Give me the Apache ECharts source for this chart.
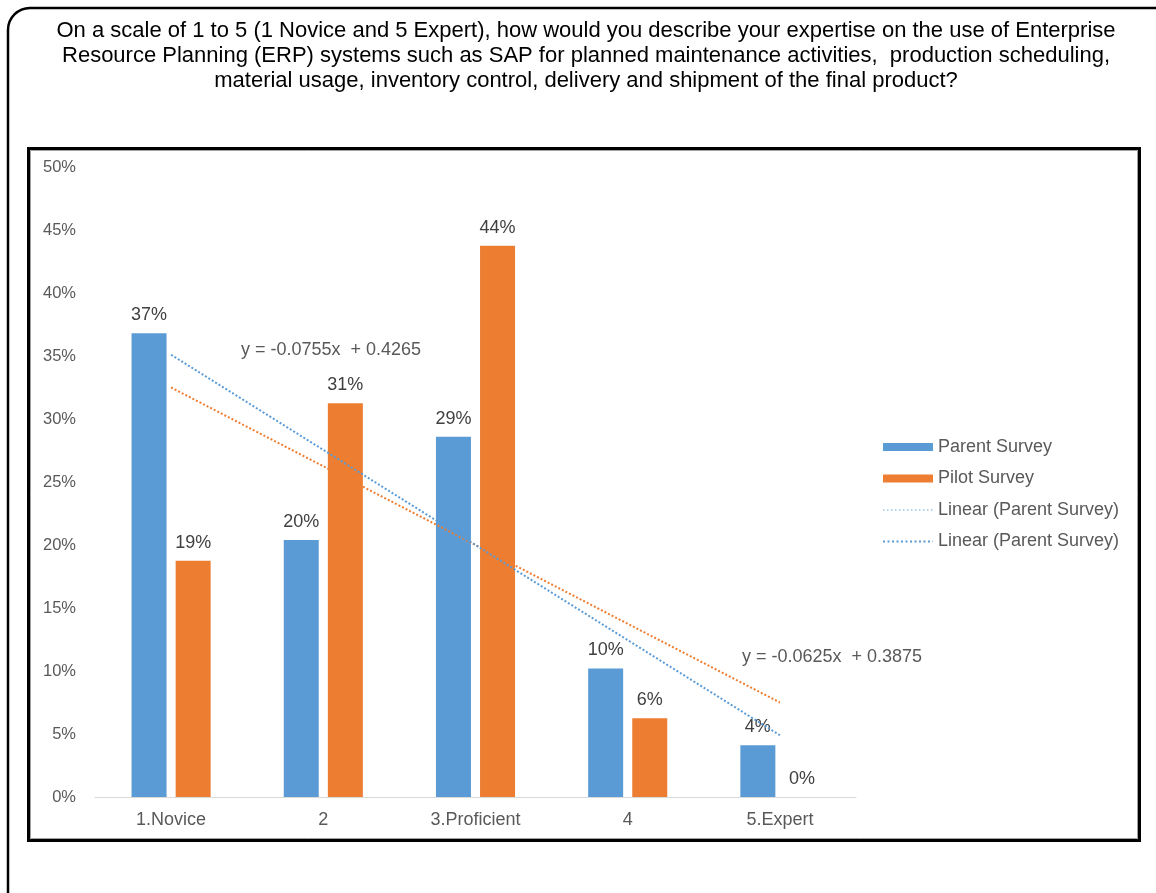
<!DOCTYPE html>
<html><head><meta charset="utf-8">
<script src="https://cdn.jsdelivr.net/npm/echarts@6/dist/echarts.min.js"></script>
<style>html,body{margin:0;padding:0;background:#fff;}#c{width:1156px;height:893px;}</style>
</head><body><div id="c"></div>
<script>
const titleLines = [
  "On a scale of 1 to 5 (1 Novice and 5 Expert), how would you describe your expertise on the use of Enterprise",
  "Resource Planning (ERP) systems such as SAP for planned maintenance activities,  production scheduling,",
  "material usage, inventory control, delivery and shipment of the final product?"
];
const categories = ["1.Novice", "2", "3.Proficient", "4", "5.Expert"];
const parentSurvey = [36.8, 20.4, 28.6, 10.2, 4.1];
const pilotSurvey = [18.75, 31.25, 43.75, 6.25, 0];
const parentTrend = [35.1, 27.55, 20.0, 12.45, 4.9];
const pilotTrend = [32.5, 26.25, 20.0, 13.75, 7.5];
const yTicks = [0, 5, 10, 15, 20, 25, 30, 35, 40, 45, 50];
const parentEq = "y = -0.0755x  + 0.4265";
const pilotEq = "y = -0.0625x  + 0.3875";

const BLUE = '#5B9BD5', ORANGE = '#ED7D31', LIGHTBLUE = '#9DC3E6';
const FONT = '"Liberation Sans", Arial, sans-serif';
const chart = echarts.init(document.getElementById('c'), null, {renderer: 'canvas'});
const pctLabel = {show: true, position: 'top', distance: 9, fontFamily: FONT, fontSize: 18, color: '#404040',
  formatter: function (p) { return Math.round(p.value) + '%'; }};
chart.setOption({
  backgroundColor: '#fff',
  animation: false,
  graphic: [
    {type: 'rect', shape: {x: 8, y: 8, width: 1180, height: 920, r: [22, 0, 0, 0]},
     style: {fill: 'none', stroke: '#000', lineWidth: 2.5}, z: -10},
    {type: 'rect', shape: {x: 28.5, y: 148.5, width: 1111, height: 692},
     style: {fill: 'none', stroke: '#000', lineWidth: 3}, z: -10},
    {type: 'rect', shape: {x: 30.5, y: 150.5, width: 1107, height: 688},
     style: {fill: 'none', stroke: '#a0a0a0', lineWidth: 1}, z: -10},
    {type: 'text', x: 586, y: 18, style: {text: titleLines.join('\n'), align: 'center',
      font: '22px ' + FONT, fill: '#000', lineHeight: 25}},
    {type: 'text', x: 241, y: 341, style: {text: parentEq, font: '18px ' + FONT, fill: '#595959'}},
    {type: 'text', x: 742, y: 648, style: {text: pilotEq, font: '18px ' + FONT, fill: '#595959'}}
  ],
  grid: {left: 95, right: 300, top: 167, bottom: 96},
  legend: {
    orient: 'vertical', left: 882, top: 438, padding: 0, itemGap: 13.5, itemWidth: 50, itemHeight: 8,
    textStyle: {fontFamily: FONT, fontSize: 18, color: '#595959'},
    formatter: function (n) { return n === 'Linear (Pilot Survey)' ? 'Linear (Parent Survey)' : n; },
    data: [
      {name: 'Parent Survey', icon: 'rect'},
      {name: 'Pilot Survey', icon: 'rect'},
      {name: 'Linear (Pilot Survey)', itemStyle: {color: 'rgba(0,0,0,0)', borderWidth: 0},
       lineStyle: {color: LIGHTBLUE, width: 1.5, type: [1.5, 2.5]}},
      {name: 'Linear (Parent Survey)', itemStyle: {color: 'rgba(0,0,0,0)', borderWidth: 0},
       lineStyle: {color: BLUE, width: 2, type: [2, 2.5]}}
    ]
  },
  xAxis: {
    type: 'category', data: categories,
    axisLine: {lineStyle: {color: '#d9d9d9', width: 1}},
    axisTick: {show: false},
    axisLabel: {fontFamily: FONT, fontSize: 18, color: '#595959', margin: 14}
  },
  yAxis: {
    type: 'value', min: 0, max: 50, interval: 5,
    splitLine: {show: false}, axisLine: {show: false}, axisTick: {show: false},
    axisLabel: {fontFamily: FONT, fontSize: 16.5, color: '#595959', margin: 19,
      formatter: function (v) { return yTicks.indexOf(v) >= 0 ? v + '%' : ''; }}
  },
  series: [
    {name: 'Parent Survey', type: 'bar', data: parentSurvey, barWidth: 35, barGap: '26%',
     itemStyle: {color: BLUE}, label: pctLabel},
    {name: 'Pilot Survey', type: 'bar', data: pilotSurvey, barWidth: 35,
     itemStyle: {color: ORANGE}, label: pctLabel},
    {name: 'Linear (Pilot Survey)', type: 'line', data: pilotTrend, symbol: 'none', z: 5,
     itemStyle: {color: ORANGE},
     lineStyle: {color: ORANGE, width: 2, type: [2, 2]}},
    {name: 'Linear (Parent Survey)', type: 'line', data: parentTrend, symbol: 'none', z: 5,
     itemStyle: {color: BLUE},
     lineStyle: {color: BLUE, width: 2, type: [2, 2]}}
  ]
});
</script></body></html>
